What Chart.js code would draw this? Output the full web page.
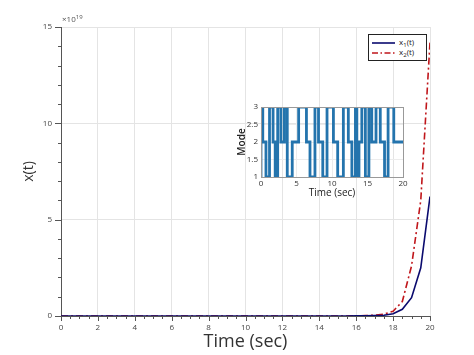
<!DOCTYPE html>
<html><head><meta charset="utf-8">
<script src="https://cdn.jsdelivr.net/npm/chart.js@4.4.1/dist/chart.umd.min.js"></script>
<style>
html,body{margin:0;padding:0;background:#fff;}
#wrap{position:relative;width:474px;height:355px;overflow:hidden;font-family:'Open Sans',sans-serif;}
#main{position:absolute;left:0;top:0;}
#inset{position:absolute;left:226px;top:98px;}
#legend{position:absolute;left:368px;top:34px;width:59px;height:27px;border:1px solid #222;background:#fff;box-sizing:border-box;font-size:8px;color:#222;}
.row{position:absolute;left:3px;height:10px;line-height:10px;}
.row svg{position:absolute;left:0;top:0;}
.row span{position:absolute;left:27px;top:-1px;white-space:nowrap;}
.row sub{font-size:6px;vertical-align:-2px;line-height:0;}
#mult{position:absolute;left:62px;top:13px;font-size:8px;color:#555;white-space:nowrap;}
#mult sup{font-size:6px;vertical-align:3px;line-height:0;}
</style></head>
<body>
<div id="wrap">
<canvas id="main" width="474" height="355"></canvas>
<canvas id="inset" width="186" height="108"></canvas>
<div id="mult">×10<sup>19</sup></div>
<div id="legend">
  <div class="row" style="top:3px;"><svg width="24" height="10"><line x1="0" y1="5" x2="23" y2="5" stroke="#0a0a6e" stroke-width="1.6"/></svg><span>x<sub>1</sub>(t)</span></div>
  <div class="row" style="top:13px;"><svg width="24" height="10"><line x1="0" y1="5" x2="23" y2="5" stroke="#c0161b" stroke-width="1.6" stroke-dasharray="6,2.5,1.5,2.5"/></svg><span>x<sub>2</sub>(t)</span></div>
</div>
</div>
<script>
// ---- data ----
const times = [0,0.5,1,1.5,2,2.5,3,3.5,4,4.5,5,5.5,6,6.5,7,7.5,8,8.5,9,9.5,10,10.5,11,11.5,12,12.5,13,13.5,14,14.5,15,15.5,16,16.5,17,17.5,18,18.5,19,19.5,20];
const x1Values = [0,0,0,0,0,0,0,0,0,0,0,0,0,0,0,0,0,0,0,0,0,0,0,0,0,0,0,0,0,0,0,0,0.005,0.01,0.02,0.04,0.12,0.35,0.95,2.5,6.2];
const x2Values = [0,0,0,0,0,0,0,0,0,0,0,0,0,0,0,0,0,0,0,0,0,0,0,0,0,0,0,0,0,0,0,0,0.01,0.02,0.04,0.09,0.25,0.75,2.6,6.0,14.2];
const modeTimes = [0,0.25,0.7,1.2,1.7,2.0,2.35,2.8,3.3,3.7,4.4,5.3,6.4,6.9,7.6,8.1,8.7,9.3,10.2,10.8,11.6,12.3,12.8,13.3,13.5,13.8,14.2,14.7,15.2,15.6,16.2,16.8,17.4,17.9,18.7,19.2,20];
const modeValues = [1,3,2,1,3,2,1,3,2,3,1,2,3,2,1,3,2,1,3,2,1,3,2,1,3,1,2,3,1,3,2,3,2,1,3,2,2];

const FONT = "'Open Sans', sans-serif";
const pts = (xs, ys) => xs.map((x, i) => ({x, y: ys[i]}));

const axisPlugin = {
  id: 'axisPlugin',
  beforeDatasetsDraw(chart) {
    const {ctx, chartArea: a, scales: {x, y}} = chart;
    ctx.save();
    ctx.strokeStyle = '#555'; ctx.lineWidth = 1;
    ctx.beginPath();
    ctx.moveTo(a.left + 0.5, a.top); ctx.lineTo(a.left + 0.5, a.bottom + 0.5); ctx.lineTo(a.right, a.bottom + 0.5);
    for (let v = y.min; v <= y.max + 1e-9; v += 1) {
      const py = Math.round(y.getPixelForValue(v)) + 0.5;
      const len = (v % 5 === 0) ? 6 : 3;
      ctx.moveTo(a.left - len, py); ctx.lineTo(a.left, py);
    }
    for (let v = x.min; v <= x.max + 1e-9; v += 0.5) {
      const px = Math.round(x.getPixelForValue(v)) + 0.5;
      const len = (Math.abs(v % 2) < 1e-9) ? 5 : 3;
      ctx.moveTo(px, a.bottom); ctx.lineTo(px, a.bottom + len);
    }
    ctx.stroke();
    ctx.restore();
  }
};

new Chart(document.getElementById('main'), {
  type: 'line',
  data: {
    datasets: [
      {label: 'x1(t)', data: pts(times, x1Values), borderColor: '#0a0a6e', borderWidth: 1.6, pointRadius: 0, tension: 0, fill: false},
      {label: 'x2(t)', data: pts(times, x2Values), borderColor: '#c0161b', borderWidth: 1.6, borderDash: [7,3,2,3], pointRadius: 0, tension: 0, fill: false}
    ]
  },
  options: {
    responsive: false, animation: false, devicePixelRatio: 1,
    layout: {padding: {top: 27, right: 44, left: 0, bottom: 0}},
    plugins: {legend: {display: false}, tooltip: {enabled: false}},
    scales: {
      x: {
        type: 'linear', min: 0, max: 20,
        ticks: {stepSize: 2, font: {size: 8, family: FONT}, color: '#444', padding: 7, maxRotation: 0},
        grid: {color: '#e4e4e4', drawTicks: false},
        border: {display: false},
        title: {display: true, text: 'Time (sec)', font: {size: 18, family: FONT}, color: '#333', padding: {top: 0, bottom: 2}},
        afterFit(s) { s.height = 39; }
      },
      y: {
        type: 'linear', min: 0, max: 15,
        ticks: {stepSize: 5, font: {size: 8, family: FONT}, color: '#444', padding: 9},
        grid: {color: '#e4e4e4', drawTicks: false},
        border: {display: false},
        title: {display: true, text: 'x(t)', font: {size: 14, family: FONT}, color: '#333', padding: {top: 21, bottom: 0}},
        afterFit(s) { s.width = 61; }
      }
    }
  },
  plugins: [axisPlugin]
});

const boxPlugin = {
  id: 'boxPlugin',
  afterDatasetsDraw(chart) {
    const {ctx, chartArea: a} = chart;
    ctx.save(); ctx.strokeStyle = '#999'; ctx.lineWidth = 1;
    ctx.strokeRect(Math.round(a.left) + 0.5, Math.round(a.top) + 0.5, Math.round(a.right - a.left), Math.round(a.bottom - a.top));
    ctx.restore();
  }
};

new Chart(document.getElementById('inset'), {
  type: 'line',
  data: {
    datasets: [
      {data: pts(modeTimes, modeValues), borderColor: '#2474ad', borderWidth: 2.8, stepped: 'after', pointRadius: 0, fill: false},
      {data: pts(modeTimes, modeValues), borderColor: '#b4def2', borderWidth: 0.9, stepped: 'after', pointRadius: 0, fill: false}
    ]
  },
  options: {
    responsive: false, animation: false, devicePixelRatio: 1,
    layout: {padding: {top: 9, right: 9, left: 0, bottom: 0}},
    plugins: {legend: {display: false}, tooltip: {enabled: false}},
    scales: {
      x: {
        type: 'linear', min: 0, max: 20,
        ticks: {stepSize: 5, font: {size: 8, family: FONT}, color: '#333', padding: 2, maxRotation: 0},
        grid: {color: '#ececec', drawTicks: false},
        border: {display: false},
        title: {display: true, text: 'Time (sec)', font: {size: 10, family: FONT}, color: '#222', padding: {top: 0, bottom: 7}},
        afterFit(s) { s.height = 29; }
      },
      y: {
        type: 'linear', min: 1, max: 3,
        ticks: {stepSize: 0.5, font: {size: 8, family: FONT}, color: '#333', padding: 3, callback: v => String(+v)},
        grid: {color: '#ececec', drawTicks: false},
        border: {display: false},
        title: {display: true, text: 'Mode', font: {size: 10, family: FONT, weight: '600'}, color: '#222', padding: {top: 10, bottom: 0}},
        afterFit(s) { s.width = 35; }
      }
    }
  },
  plugins: [boxPlugin]
});
</script>
</body></html>
